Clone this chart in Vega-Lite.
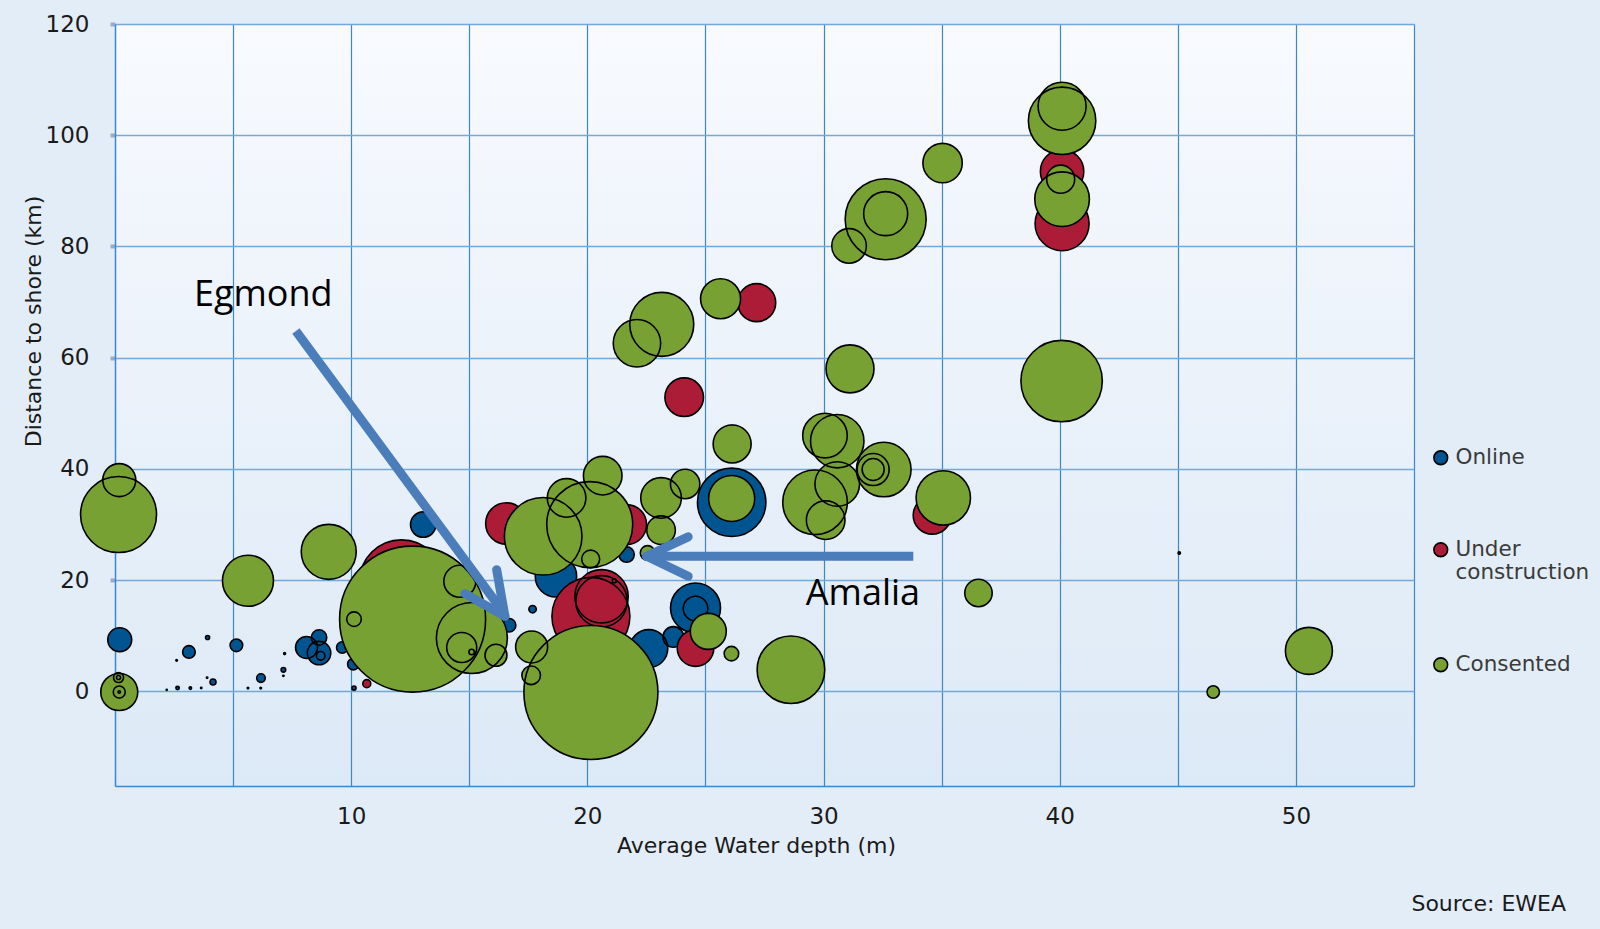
{
  "$schema": "https://vega.github.io/schema/vega-lite/v6.json",
  "autosize": {"type": "none"},
  "width": 1299,
  "height": 762,
  "padding": {"left": 115, "top": 24, "right": 186, "bottom": 143},
  "background": "#E3EDF8",
  "title": {
    "text": "Source: EWEA",
    "orient": "bottom",
    "anchor": "end",
    "frame": "group",
    "dx": 152,
    "offset": 38,
    "font": "DejaVu Sans",
    "fontSize": 22,
    "fontWeight": "normal",
    "color": "#1a1a1a"
  },
  "config": {
    "view": {
      "stroke": null,
      "fill": {
        "gradient": "linear",
        "x1": 0, "y1": 0, "x2": 0, "y2": 1,
        "stops": [
          {"offset": 0, "color": "#F8FAFE"},
          {"offset": 1, "color": "#DCE9F6"}
        ]
      }
    },
    "axis": {
      "labelFont": "DejaVu Sans",
      "labelFontSize": 23,
      "labelColor": "#1a1a1a",
      "titleFont": "DejaVu Sans",
      "titleFontSize": 22,
      "titleFontWeight": "normal",
      "titleColor": "#1a1a1a",
      "domainColor": "#3C88C6",
      "domainWidth": 1.5
    }
  },
  "datasets": {
    "bubbles": [
      {"status": "Online", "depth": 0.2, "distance": 9.3, "capacity": 45},
      {"status": "Online", "depth": 3.13, "distance": 7.1, "capacity": 12.5},
      {"status": "Online", "depth": 3.92, "distance": 9.7, "capacity": 1.3},
      {"status": "Online", "depth": 2.61, "distance": 5.6, "capacity": 0.2},
      {"status": "Online", "depth": 2.19, "distance": 0.3, "capacity": 0.1},
      {"status": "Online", "depth": 2.65, "distance": 0.6, "capacity": 0.9},
      {"status": "Online", "depth": 3.19, "distance": 0.6, "capacity": 0.5},
      {"status": "Online", "depth": 3.65, "distance": 0.6, "capacity": 0.15},
      {"status": "Online", "depth": 3.9, "distance": 2.45, "capacity": 0.15},
      {"status": "Online", "depth": 4.15, "distance": 1.7, "capacity": 2.8},
      {"status": "Online", "depth": 5.14, "distance": 8.3, "capacity": 12.5},
      {"status": "Online", "depth": 5.63, "distance": 0.6, "capacity": 0.2},
      {"status": "Online", "depth": 6.17, "distance": 0.6, "capacity": 0.2},
      {"status": "Online", "depth": 6.18, "distance": 2.4, "capacity": 5.8},
      {"status": "Online", "depth": 7.13, "distance": 3.9, "capacity": 1.7},
      {"status": "Online", "depth": 7.13, "distance": 2.8, "capacity": 0.15},
      {"status": "Online", "depth": 7.18, "distance": 6.8, "capacity": 0.3},
      {"status": "Online", "depth": 8.11, "distance": 7.9, "capacity": 38},
      {"status": "Online", "depth": 8.64, "distance": 9.7, "capacity": 18.6},
      {"status": "Online", "depth": 8.64, "distance": 6.9, "capacity": 43},
      {"status": "Online", "depth": 8.71, "distance": 6.4, "capacity": 5.8},
      {"status": "Online", "depth": 9.62, "distance": 7.9, "capacity": 10.2},
      {"status": "Online", "depth": 10.09, "distance": 4.9, "capacity": 10.2},
      {"status": "Online", "depth": 10.12, "distance": 0.6, "capacity": 1.3},
      {"status": "Online", "depth": 13.05, "distance": 30.0, "capacity": 50.7},
      {"status": "Online", "depth": 16.69, "distance": 11.9, "capacity": 14.1},
      {"status": "Online", "depth": 17.68, "distance": 14.8, "capacity": 4.3},
      {"status": "Online", "depth": 18.67, "distance": 20.7, "capacity": 134.6},
      {"status": "Online", "depth": 21.66, "distance": 24.6, "capacity": 18.6},
      {"status": "Online", "depth": 22.6, "distance": 7.7, "capacity": 113.4},
      {"status": "Online", "depth": 23.64, "distance": 9.8, "capacity": 33.3},
      {"status": "Online", "depth": 24.58, "distance": 15.0, "capacity": 196.3},
      {"status": "Online", "depth": 24.58, "distance": 14.9, "capacity": 47.5},
      {"status": "Online", "depth": 26.11, "distance": 34.0, "capacity": 367.5},
      {"status": "Online", "depth": 45.06, "distance": 24.9, "capacity": 0.45},
      {"status": "Under construction", "depth": 10.66, "distance": 1.4, "capacity": 5.0},
      {"status": "Under construction", "depth": 12.13, "distance": 19.7, "capacity": 554},
      {"status": "Under construction", "depth": 16.57, "distance": 30.2, "capacity": 134.6},
      {"status": "Under construction", "depth": 20.15, "distance": 13.5, "capacity": 477.8},
      {"status": "Under construction", "depth": 20.6, "distance": 17.1, "capacity": 224},
      {"status": "Under construction", "depth": 20.6, "distance": 16.2, "capacity": 207.5},
      {"status": "Under construction", "depth": 21.14, "distance": 19.9, "capacity": 1.3},
      {"status": "Under construction", "depth": 21.66, "distance": 30.0, "capacity": 125.7},
      {"status": "Under construction", "depth": 24.58, "distance": 7.8, "capacity": 105.2},
      {"status": "Under construction", "depth": 24.1, "distance": 52.9, "capacity": 117},
      {"status": "Under construction", "depth": 27.17, "distance": 69.9, "capacity": 113.4},
      {"status": "Under construction", "depth": 26.13, "distance": 46.6, "capacity": 15.4},
      {"status": "Under construction", "depth": 34.6, "distance": 31.7, "capacity": 113.4},
      {"status": "Under construction", "depth": 40.1, "distance": 93.5, "capacity": 147.9},
      {"status": "Under construction", "depth": 40.1, "distance": 84.1, "capacity": 229},
      {"status": "Consented", "depth": 0.18, "distance": 38.0, "capacity": 85.5},
      {"status": "Consented", "depth": 0.15, "distance": 31.8, "capacity": 453.6},
      {"status": "Consented", "depth": 0.18, "distance": -0.1, "capacity": 107.5},
      {"status": "Consented", "depth": 0.18, "distance": -0.1, "capacity": 11.3},
      {"status": "Consented", "depth": 0.15, "distance": 2.5, "capacity": 7.9},
      {"status": "Consented", "depth": 0.15, "distance": 2.5, "capacity": 1.3},
      {"status": "Consented", "depth": 0.18, "distance": -0.1, "capacity": 0.45},
      {"status": "Consented", "depth": 5.63, "distance": 19.9, "capacity": 204.3},
      {"status": "Consented", "depth": 9.05, "distance": 25.1, "capacity": 237.6},
      {"status": "Consented", "depth": 12.6, "distance": 13.0, "capacity": 1674},
      {"status": "Consented", "depth": 10.12, "distance": 13.0, "capacity": 16.7},
      {"status": "Consented", "depth": 14.6, "distance": 19.8, "capacity": 80.4},
      {"status": "Consented", "depth": 15.11, "distance": 9.6, "capacity": 395.9},
      {"status": "Consented", "depth": 14.68, "distance": 7.9, "capacity": 70.7},
      {"status": "Consented", "depth": 15.1, "distance": 7.1, "capacity": 2.3},
      {"status": "Consented", "depth": 16.13, "distance": 6.5, "capacity": 38},
      {"status": "Consented", "depth": 17.64, "distance": 8.0, "capacity": 80.4},
      {"status": "Consented", "depth": 17.62, "distance": 2.9, "capacity": 27.2},
      {"status": "Consented", "depth": 20.15, "distance": -0.2, "capacity": 1410},
      {"status": "Consented", "depth": 18.13, "distance": 27.9, "capacity": 473},
      {"status": "Consented", "depth": 20.1, "distance": 30.0, "capacity": 580.9},
      {"status": "Consented", "depth": 19.12, "distance": 34.8, "capacity": 117},
      {"status": "Consented", "depth": 20.65, "distance": 38.8, "capacity": 117},
      {"status": "Consented", "depth": 20.14, "distance": 23.8, "capacity": 25.4},
      {"status": "Consented", "depth": 22.55, "distance": 24.9, "capacity": 16.7},
      {"status": "Consented", "depth": 23.12, "distance": 34.8, "capacity": 129.5},
      {"status": "Consented", "depth": 23.12, "distance": 29.0, "capacity": 64.2},
      {"status": "Consented", "depth": 24.14, "distance": 37.3, "capacity": 67.9},
      {"status": "Consented", "depth": 25.12, "distance": 10.8, "capacity": 101.8},
      {"status": "Consented", "depth": 26.1, "distance": 6.8, "capacity": 16.7},
      {"status": "Consented", "depth": 28.62, "distance": 3.9, "capacity": 358.9},
      {"status": "Consented", "depth": 26.11, "distance": 34.7, "capacity": 166.2},
      {"status": "Consented", "depth": 29.64, "distance": 34.0, "capacity": 327.8},
      {"status": "Consented", "depth": 30.58, "distance": 37.3, "capacity": 156.2},
      {"status": "Consented", "depth": 30.09, "distance": 30.8, "capacity": 117},
      {"status": "Consented", "depth": 30.06, "distance": 46.0, "capacity": 156.2},
      {"status": "Consented", "depth": 30.58, "distance": 45.0, "capacity": 224},
      {"status": "Consented", "depth": 32.55, "distance": 39.9, "capacity": 234.1},
      {"status": "Consented", "depth": 32.1, "distance": 39.9, "capacity": 80.4},
      {"status": "Consented", "depth": 32.1, "distance": 39.9, "capacity": 38},
      {"status": "Consented", "depth": 35.07, "distance": 34.8, "capacity": 232.4},
      {"status": "Consented", "depth": 36.56, "distance": 17.7, "capacity": 59},
      {"status": "Consented", "depth": 40.08, "distance": 55.8, "capacity": 520.4},
      {"status": "Consented", "depth": 31.12, "distance": 58.0, "capacity": 181},
      {"status": "Consented", "depth": 26.13, "distance": 44.5, "capacity": 113.4},
      {"status": "Consented", "depth": 22.1, "distance": 62.6, "capacity": 176.5},
      {"status": "Consented", "depth": 23.15, "distance": 66.0, "capacity": 321.7},
      {"status": "Consented", "depth": 25.64, "distance": 70.6, "capacity": 125.7},
      {"status": "Consented", "depth": 31.08, "distance": 80.1, "capacity": 94},
      {"status": "Consented", "depth": 32.63, "distance": 84.9, "capacity": 515.3},
      {"status": "Consented", "depth": 32.63, "distance": 85.9, "capacity": 152.1},
      {"status": "Consented", "depth": 35.04, "distance": 95.0, "capacity": 121.9},
      {"status": "Consented", "depth": 40.1, "distance": 102.6, "capacity": 356.8},
      {"status": "Consented", "depth": 40.1, "distance": 105.2, "capacity": 181},
      {"status": "Consented", "depth": 40.04, "distance": 92.1, "capacity": 61.6},
      {"status": "Consented", "depth": 40.1, "distance": 88.5, "capacity": 234.1},
      {"status": "Consented", "depth": 46.5, "distance": -0.1, "capacity": 12.1},
      {"status": "Consented", "depth": 50.55, "distance": 7.3, "capacity": 173.5}
    ],
    "shafts": [
      {"arrow": "Egmond", "x": 7.66, "y": 64.8, "x2": 16.45, "y2": 14.2},
      {"arrow": "Amalia", "x": 33.8, "y": 24.3, "x2": 22.7, "y2": 24.3}
    ],
    "heads": [
      {"arrow": "Egmond", "x": 16.51, "y": 13.5, "x2": 16.16, "y2": 21.9},
      {"arrow": "Egmond", "x": 16.51, "y": 13.5, "x2": 14.82, "y2": 17.6},
      {"arrow": "Amalia", "x": 22.51, "y": 24.3, "x2": 24.27, "y2": 27.8},
      {"arrow": "Amalia", "x": 22.51, "y": 24.3, "x2": 24.27, "y2": 20.7}
    ],
    "notes": [
      {"text": "Egmond", "x": 3.34, "y": 71.2},
      {"text": "Amalia", "x": 29.25, "y": 17.6}
    ]
  },
  "encoding": {
    "x": {
      "field": "depth", "type": "quantitative",
      "scale": {"domain": [0, 55], "nice": false, "zero": false},
      "axis": {
        "title": "Average Water depth (m)",
        "values": [5, 10, 15, 20, 25, 30, 35, 40, 45, 50, 55],
        "labelExpr": "datum.value % 10 === 0 ? datum.label : ''",
        "ticks": false,
        "tickSize": 0,
        "labelPadding": 19,
        "grid": true,
        "gridColor": "#3C88C6",
        "gridWidth": 1.2,
        "titleX": 641,
        "titleY": 59,
        "titleBaseline": "middle"
      }
    },
    "y": {
      "field": "distance", "type": "quantitative",
      "scale": {"domain": [-17, 120], "nice": false, "zero": false},
      "axis": {
        "title": "Distance to shore (km)",
        "values": [0, 20, 40, 60, 80, 100, 120],
        "ticks": true,
        "tickSize": 5,
        "tickWidth": 4,
        "tickColor": "#9DA9C9",
        "labelPadding": 21,
        "grid": true,
        "gridColor": "#72A9D8",
        "gridWidth": 1.4,
        "titleX": -82,
        "titleY": 297,
        "titleBaseline": "middle"
      }
    }
  },
  "layer": [
    {
      "data": {"name": "bubbles"},
      "transform": [{"filter": "datum.status === 'Online'"}],
      "mark": {"type": "circle", "opacity": 1, "strokeWidth": 0},
      "encoding": {
        "color": {"field": "status", "type": "nominal",
          "scale": {"domain": ["Online", "Under construction", "Consented"], "range": ["#00548F", "#AC1C37", "#77A132"]},
          "legend": {
            "title": null, "orient": "none", "legendX": 1315, "legendY": 423,
            "padding": 0, "symbolType": "circle", "symbolSize": 190,
            "symbolStrokeColor": "black", "symbolStrokeWidth": 1.6,
            "labelFont": "DejaVu Sans", "labelFontSize": 21.5, "labelColor": "#3A3A3A",
            "labelOffset": 4, "labelLimit": 220, "rowPadding": 69,
            "labelExpr": "datum.label === 'Under construction' ? ['Under', 'construction'] : datum.label",
            "labelBaseline": "middle"
          }
        },
        "size": {"field": "capacity", "type": "quantitative", "scale": {"type": "linear", "domain": [0, 2000], "range": [0, 25465], "zero": true}, "legend": null}
      }
    },
    {
      "data": {"name": "bubbles"},
      "transform": [{"filter": "datum.status === 'Online'"}],
      "mark": {"type": "circle", "filled": false, "stroke": "black", "strokeWidth": 1.6, "opacity": 1},
      "encoding": {"size": {"field": "capacity", "type": "quantitative", "legend": null}}
    },
    {
      "data": {"name": "bubbles"},
      "transform": [{"filter": "datum.status === 'Under construction'"}],
      "mark": {"type": "circle", "opacity": 1, "strokeWidth": 0},
      "encoding": {
        "color": {"field": "status", "type": "nominal"},
        "size": {"field": "capacity", "type": "quantitative", "legend": null}
      }
    },
    {
      "data": {"name": "bubbles"},
      "transform": [{"filter": "datum.status === 'Under construction'"}],
      "mark": {"type": "circle", "filled": false, "stroke": "black", "strokeWidth": 1.6, "opacity": 1},
      "encoding": {"size": {"field": "capacity", "type": "quantitative", "legend": null}}
    },
    {
      "data": {"name": "bubbles"},
      "transform": [{"filter": "datum.status === 'Consented'"}],
      "mark": {"type": "circle", "opacity": 1, "strokeWidth": 0},
      "encoding": {
        "color": {"field": "status", "type": "nominal"},
        "size": {"field": "capacity", "type": "quantitative", "legend": null}
      }
    },
    {
      "data": {"name": "bubbles"},
      "transform": [{"filter": "datum.status === 'Consented'"}],
      "mark": {"type": "circle", "filled": false, "stroke": "black", "strokeWidth": 1.6, "opacity": 1},
      "encoding": {"size": {"field": "capacity", "type": "quantitative", "legend": null}}
    },
    {
      "data": {"name": "shafts"},
      "mark": {"type": "rule", "color": "#4A7DBA", "strokeWidth": 9, "strokeCap": "butt"},
      "encoding": {
        "x": {"field": "x", "type": "quantitative"},
        "y": {"field": "y", "type": "quantitative"},
        "x2": {"field": "x2"},
        "y2": {"field": "y2"}
      }
    },
    {
      "data": {"name": "heads"},
      "mark": {"type": "rule", "color": "#4A7DBA", "strokeWidth": 9, "strokeCap": "round"},
      "encoding": {
        "x": {"field": "x", "type": "quantitative"},
        "y": {"field": "y", "type": "quantitative"},
        "x2": {"field": "x2"},
        "y2": {"field": "y2"}
      }
    },
    {
      "data": {"name": "notes"},
      "mark": {"type": "text", "align": "left", "baseline": "middle", "font": "Open Sans", "fontSize": 36, "color": "#000000"},
      "encoding": {
        "x": {"field": "x", "type": "quantitative"},
        "y": {"field": "y", "type": "quantitative"},
        "text": {"field": "text"}
      }
    }
  ]
}
